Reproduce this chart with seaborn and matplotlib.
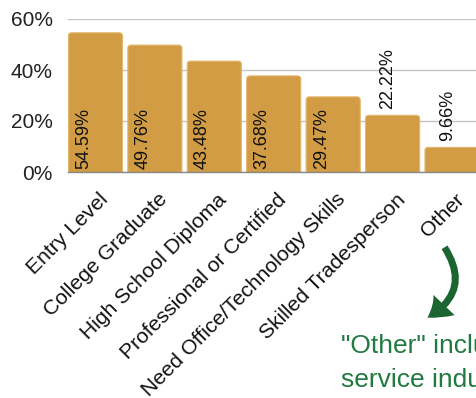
import matplotlib
matplotlib.use("Agg")
import matplotlib.pyplot as plt
import matplotlib.transforms as mtransforms
from matplotlib.patches import FancyBboxPatch, FancyArrowPatch
import seaborn as sns
import pandas as pd

categories = ["Entry Level", "College Graduate", "High School Diploma",
              "Professional or Certified", "Need Office/Technology Skills",
              "Skilled Tradesperson", "Other"]
percentages = [54.59, 49.76, 43.48, 37.68, 29.47, 22.22, 9.66]
y_ticks = [0, 20, 40, 60]
note_lines = ['"Other" includes', 'service industry']

BAR = "#D19C44"
EDGE = "#E3B66A"
GREEN_ARROW = "#1B6531"
GREEN_TEXT = "#217A40"

sns.set_style("white")
plt.rcParams["font.family"] = ["Liberation Sans", "DejaVu Sans"]

W, H = 477, 398
fig = plt.figure(figsize=(W / 100, H / 100), dpi=100)

# axes extends a little past the right edge of the canvas
x0, x1 = 68.1, 481.75
y_top, y_base = 19, 172
ax = fig.add_axes([x0 / W, 1 - y_base / H, (x1 - x0) / W, (y_base - y_top) / H])

df = pd.DataFrame({"cat": categories, "pct": percentages})
sns.barplot(data=df, x="cat", y="pct", color=BAR, width=0.91, saturation=1,
            ax=ax, zorder=2)

ax.set_xlim(-0.46, 6.5)
ax.set_ylim(0, 60)

# swap the plain rectangles for ones with softly rounded tops
units_x = 1 / 59.5
units_y = 1 / 2.55
for p in list(ax.patches):
    x, w, h = p.get_x(), p.get_width(), p.get_height()
    fb = FancyBboxPatch((x, -3), w, h + 3,
                        boxstyle="round,pad=0,rounding_size=0.055",
                        mutation_aspect=units_y / units_x,
                        facecolor=BAR, edgecolor=EDGE, linewidth=0.8, zorder=2)
    p.remove()
    ax.add_patch(fb)

# value labels: inside the taller bars, above the short ones
for i, v in enumerate(percentages):
    label = f"{v:.2f}%"
    if v > 25:
        ax.text(i - 0.2, 1.2, label, rotation=90, ha="center", va="bottom",
                fontsize=13, color="#111111", zorder=3)
    else:
        ax.text(i - 0.08, v + 2.5, label, rotation=90, ha="center", va="bottom",
                fontsize=13, color="#111111", zorder=3)

ax.set_yticks(y_ticks)
ax.set_yticklabels([f"{t}%" for t in y_ticks], fontsize=15, color="#222222")
ax.tick_params(axis="y", length=0, pad=11)
ax.tick_params(axis="x", length=0, pad=2)
ax.set_xticks(range(len(categories)))
ax.set_xticklabels(categories, rotation=45, ha="right", va="top",
                   rotation_mode="anchor", fontsize=15.2, color="#111111")
offset = mtransforms.ScaledTranslation(3 / 100, -15 / 100, fig.dpi_scale_trans)
for lbl in ax.get_xticklabels():
    lbl.set_transform(lbl.get_transform() + offset)

ax.set_xlabel("")
ax.set_ylabel("")
ax.yaxis.grid(True, color="#C4C4C4", linewidth=1, zorder=0)
ax.set_axisbelow(True)
for s in ["left", "right", "top"]:
    ax.spines[s].set_visible(False)
ax.spines["bottom"].set_color("#888888")
ax.spines["bottom"].set_linewidth(1)

# curved pointer from the "Other" label down to the note
arrow = FancyArrowPatch((443 / W, 1 - 245 / H), (425 / W, 1 - 319 / H),
                        transform=fig.transFigure,
                        connectionstyle="arc3,rad=-0.55",
                        arrowstyle="simple,head_width=21,head_length=15,tail_width=5",
                        color=GREEN_ARROW, linewidth=0)
fig.patches.append(arrow)

fig.text(341 / W, 1 - 353 / H, note_lines[0], fontsize=19, color=GREEN_TEXT,
         ha="left", va="baseline")
fig.text(341 / W, 1 - 387 / H, note_lines[1], fontsize=19, color=GREEN_TEXT,
         ha="left", va="baseline")

fig.savefig("out.png", dpi=100)
